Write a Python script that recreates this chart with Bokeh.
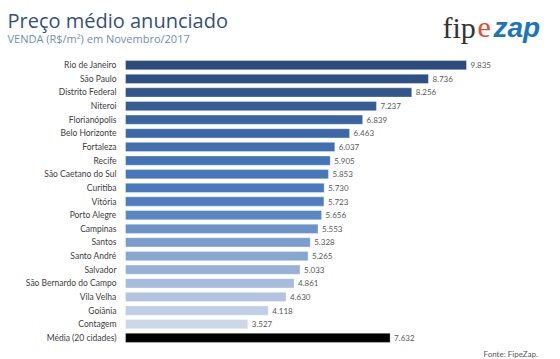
from bokeh.plotting import figure
from bokeh.models import ColumnDataSource, Range1d, Label
from bokeh.core.properties import value
from bokeh.embed import file_html
from bokeh.resources import INLINE

cities = ["Rio de Janeiro", "São Paulo", "Distrito Federal", "Niteroi", "Florianópolis",
          "Belo Horizonte", "Fortaleza", "Recife", "São Caetano do Sul", "Curitiba",
          "Vitória", "Porto Alegre", "Campinas", "Santos", "Santo André", "Salvador",
          "São Bernardo do Campo", "Vila Velha", "Goiânia", "Contagem", "Média (20 cidades)"]
prices = [9835, 8736, 8256, 7237, 6839, 6463, 6037, 5905, 5853, 5730,
          5723, 5656, 5553, 5328, 5265, 5033, 4861, 4630, 4118, 3527, 7632]
colors = ["#2c4a7c", "#2f5084", "#32568c", "#365d96", "#3a649f", "#3d69a8", "#416fb0",
          "#4473b6", "#4677ba", "#4a7abd", "#4e7ebf", "#5b87c3", "#6a91c8", "#7b9dcd",
          "#88a6d2", "#97b1d7", "#a5bcdc", "#b2c4e1", "#c0cfe6", "#cdd7ea", "#000000"]
labels = [f"{v:,}".replace(",", ".") for v in prices]

FONT = "Lato"
W, H = 560, 359
X0, SX = 125.0, 341.0 / 9835.0      # pixel of value 0, pixels per unit
Y0, SY = 64.7, 13.63                # pixel of first row, pixels per row

def X(px):
    return (px - X0) / SX

def Y(py):
    return (py - Y0) / SY

src = ColumnDataSource(dict(row=list(range(len(cities))), city=cities, price=prices,
                            color=colors, label=labels))

p = figure(width=W, height=H, output_backend="svg", toolbar_location=None,
           x_range=Range1d(X(0), X(W)), y_range=Range1d(Y(H), Y(0)),
           min_border=0)

p.hbar(y="row", right="price", height=0.68, left=0, fill_color="color",
       line_color="white", line_alpha=0.35, line_width=1, source=src)
p.text(x="price", y="row", text="label", source=src, x_offset=4,
       text_baseline="middle", text_align="left", text_font=value(FONT),
       text_font_size="8px", text_color="#595959")
p.text(x=0, y="row", text="city", source=src, x_offset=-9,
       text_baseline="middle", text_align="right", text_font=value(FONT),
       text_font_size="8.5px", text_color="#404040")

p.axis.visible = False
p.grid.visible = False
p.outline_line_color = None
p.background_fill_color = "white"
p.border_fill_color = "white"

def lab(text, px, py, size, color, font=FONT, style="normal"):
    p.add_layout(Label(x=X(px), y=Y(py), text=text,
                       text_font=font, text_font_size=size, text_color=color,
                       text_font_style=style, text_baseline="alphabetic",
                       text_align="left"))

lab("Preço médio anunciado", 7, 20, "20px", "#34507f", font="Open Sans")
lab("VENDA (R$/m²) em Novembro/2017", 7, 38, "11px", "#6b8ec4", font="Open Sans")
lab("fip", 442, 27, "30px", "#333333", font="Liberation Serif")
lab("e", 477, 27, "30px", "#e34b2c", font="Liberation Serif")
lab("zap", 493, 27, "28px", "#1b75bc", font="Liberation Sans", style="bold italic")
lab("Fonte: FipeZap.", 483, 353, "8px", "#595959")

open("out.html", "w").write(file_html(p, INLINE))
